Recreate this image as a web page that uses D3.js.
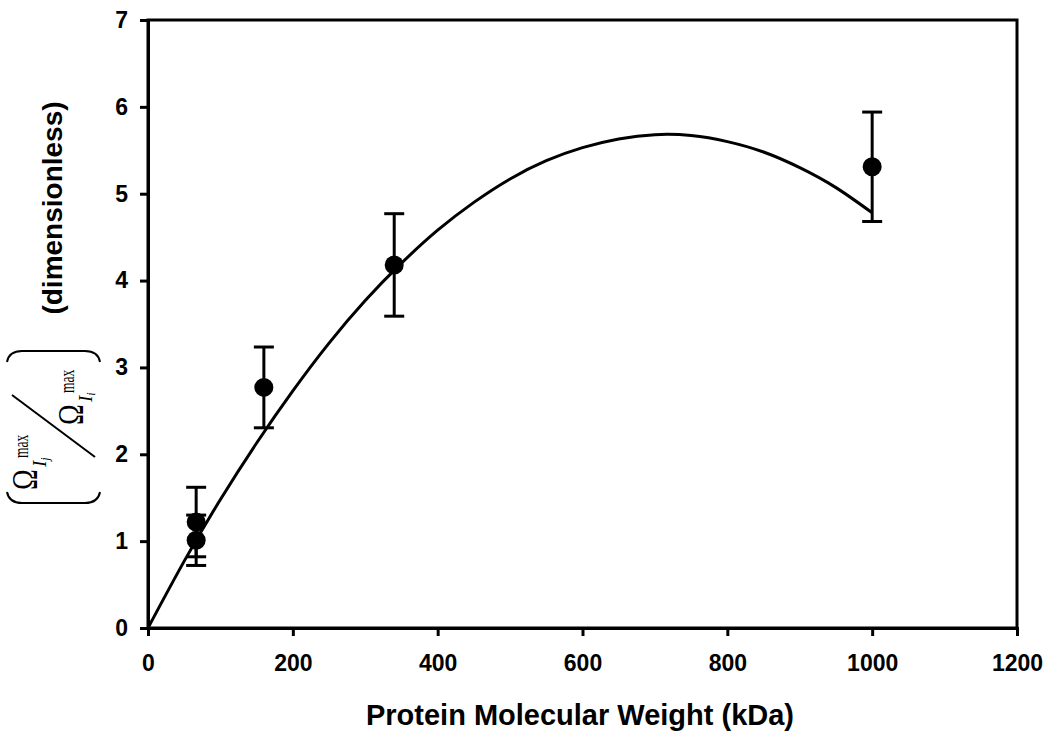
<!DOCTYPE html>
<html><head><meta charset="utf-8">
<script src="https://cdn.jsdelivr.net/npm/d3@7"></script>
<style>body{margin:0;background:#fff}svg{display:block}</style>
</head><body>
<svg id="c" width="1050" height="738"></svg>
<script>
// ---- data ----
const molWeight = [66.5, 66.5, 160, 340, 1000];
const ratio = [1.22, 1.01, 2.77, 4.18, 5.31];
const ratioErr = [0.40, 0.29, 0.465, 0.59, 0.63];
// fitted curve
const fitX = [0, 50, 100, 150, 200, 250, 300, 350, 400, 450, 500, 550, 600, 650, 700, 750, 800, 850, 900, 950, 1000];
const fitY = [0, 0.77, 1.48, 2.13, 2.73, 3.28, 3.77, 4.20, 4.58, 4.90, 5.17, 5.38, 5.53, 5.63, 5.68, 5.67, 5.60, 5.48, 5.30, 5.07, 4.78];
const xTicks = [0, 200, 400, 600, 800, 1000, 1200];
const yTicks = [0, 1, 2, 3, 4, 5, 6, 7];
const xTitle = "Protein Molecular Weight (kDa)";
const yTitle = "(dimensionless)";

const svg = d3.select("#c");
const L = 148, R = 1017, T = 20, B = 628;
const x = d3.scaleLinear().domain([0, 1200]).range([L, R]);
const y = d3.scaleLinear().domain([0, 7]).range([B, T]);
const font = "'Liberation Sans', Arial, sans-serif";
const serif = "'Liberation Serif', 'Times New Roman', serif";

// frame
svg.append("rect").attr("x", L).attr("y", T).attr("width", R - L).attr("height", B - T)
  .attr("fill", "none").attr("stroke", "#000").attr("stroke-width", 3);

// axes
const xa = svg.append("g").attr("transform", `translate(0,${B})`)
  .call(d3.axisBottom(x).tickValues(xTicks).tickFormat(d3.format("d")).tickSizeOuter(0).tickSize(8).tickPadding(19));
const ya = svg.append("g").attr("transform", `translate(${L},0)`)
  .call(d3.axisLeft(y).tickValues(yTicks).tickFormat(d3.format("d")).tickSizeOuter(0).tickSize(8).tickPadding(12));
[xa, ya].forEach(g => {
  g.select(".domain").attr("stroke-width", 3);
  g.selectAll(".tick line").attr("stroke-width", 3);
  g.selectAll(".tick text").attr("font-family", font).attr("font-weight", "bold")
    .attr("font-size", 23).attr("fill", "#000");
});

// fit curve
const line = d3.line().x((d, i) => x(fitX[i])).y(d => y(d)).curve(d3.curveNatural);
svg.append("path").attr("d", line(fitY)).attr("fill", "none").attr("stroke", "#000").attr("stroke-width", 3);

// error bars
const eb = svg.append("g").attr("stroke", "#000").attr("stroke-width", 3);
molWeight.forEach((m, i) => {
  const cx = x(m), y1 = y(ratio[i] + ratioErr[i]), y0 = y(ratio[i] - ratioErr[i]);
  eb.append("line").attr("x1", cx).attr("x2", cx).attr("y1", y1).attr("y2", y0);
  eb.append("line").attr("x1", cx - 10).attr("x2", cx + 10).attr("y1", y1).attr("y2", y1);
  eb.append("line").attr("x1", cx - 10).attr("x2", cx + 10).attr("y1", y0).attr("y2", y0);
});
// points
svg.append("g").selectAll("circle").data(ratio).join("circle")
  .attr("cx", (d, i) => x(molWeight[i])).attr("cy", d => y(d)).attr("r", 9.5).attr("fill", "#000");

// x title
svg.append("text").attr("x", 580).attr("y", 725).attr("text-anchor", "middle")
  .attr("font-family", font).attr("font-weight", "bold").attr("font-size", 29).text(xTitle);

// y title (rotated group: local (u,v) -> screen (v, -u))
const yt = svg.append("g").attr("transform", "rotate(-90)");
yt.append("text").attr("x", -208).attr("y", 62).attr("text-anchor", "middle")
  .attr("font-family", font).attr("font-weight", "bold").attr("font-size", 28).text(yTitle);

// big parentheses
yt.append("path").attr("d", "M -492 7 Q -503 9 -503 22 L -503 85 Q -503 98 -492 100")
  .attr("fill", "none").attr("stroke", "#000").attr("stroke-width", 2);
yt.append("path").attr("d", "M -362 7 Q -351 9 -351 22 L -351 85 Q -351 98 -362 100")
  .attr("fill", "none").attr("stroke", "#000").attr("stroke-width", 2);
// slash
yt.append("line").attr("x1", -395).attr("y1", 12).attr("x2", -457).attr("y2", 95)
  .attr("stroke", "#000").attr("stroke-width", 2);

function omega(u, v, sub) {
  yt.append("text").attr("transform", `translate(${u},${v}) scale(0.8,1)`)
    .attr("font-family", serif).attr("font-size", 35).text("Ω");
  yt.append("text").attr("transform", `translate(${u + 32},${v - 9}) scale(0.68,1)`)
    .attr("font-family", serif).attr("font-size", 20).text("max");
  const s = yt.append("text").attr("x", u + 23).attr("y", v + 9).attr("font-family", serif)
    .attr("font-style", "italic").attr("font-size", 19);
  s.append("tspan").text("I");
  s.append("tspan").attr("font-size", 12).attr("dy", 3).text(sub);
}
omega(-490, 37, "j");
omega(-425, 83, "i");
</script>
</body></html>
